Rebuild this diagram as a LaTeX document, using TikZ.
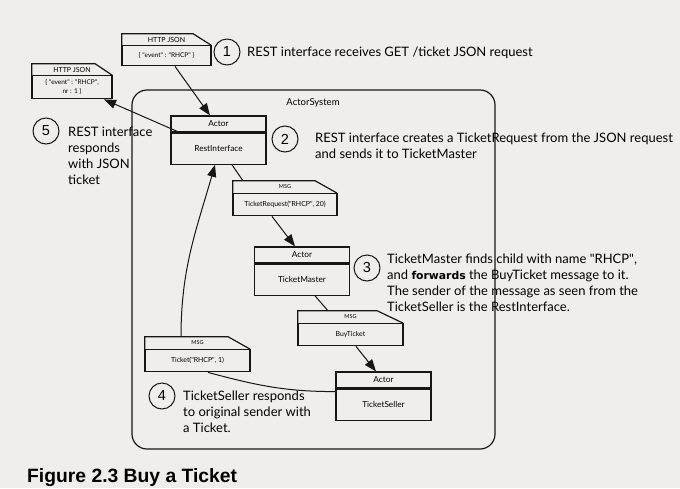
\documentclass[tikz,border=0pt]{standalone}
\usepackage{fontspec}
\setmainfont{Lato}
\newfontfamily\capfont{Liberation Sans}
\newfontfamily\heavyfont{DejaVu Sans}
\usepackage{tikz}
\usetikzlibrary{positioning,arrows.meta}
\definecolor{paper}{RGB}{239,238,236}
\definecolor{ink}{RGB}{22,22,22}
\newcommand{\dq}{\textquotedbl}

\begin{document}
\begin{tikzpicture}[x=1pt,y=1pt,
    boxline/.style={draw=ink,line width=1.2pt},
    wire/.style={draw=ink,line width=1pt},
    arr/.style={wire,-{Triangle[length=12pt,width=9pt]}},
    acthead/.style={boxline,minimum width=95,minimum height=16,inner sep=0,font=\fontsize{8.3}{9}\selectfont},
    actbody/.style={boxline,minimum width=95,minimum height=31,inner sep=0,font=\fontsize{8.3}{9}\selectfont},
    msghead/.style={minimum height=12,inner sep=0,font=\fontsize{5.5}{6}\selectfont},
    msgbody/.style={boxline,minimum height=22,inner sep=0,font=\fontsize{6.9}{8}\selectfont},
    jsonhead/.style={minimum height=11,inner sep=0,font=\fontsize{7}{8}\selectfont},
    jsonbody/.style={boxline,inner sep=0,align=center,font=\fontsize{6.5}{9}\selectfont},
    num/.style={circle,draw=ink,line width=1pt,minimum size=26,inner sep=0,font=\capfont\fontsize{14.5}{16}\selectfont},
    note/.style={anchor=base west,align=left,inner sep=0,font=\fontsize{13}{16}\selectfont}]
    \fill[paper] (0,0) rectangle (680,-488);
    \useasboundingbox (0,0) rectangle (680,-488);

    % the actor system frame
    \node[boxline,rounded corners=15pt,minimum width=363,minimum height=359,inner sep=0] (sys) at (313.5,-269.5) {};
    \node[font=\fontsize{9.5}{11}\selectfont] (sys-name) at (313,-103) {ActorSystem};

    % http messages
    \node[jsonhead,minimum width=89] (json-head) at (166.5,-39.5) {HTTP JSON};
    \node[jsonbody,minimum width=89,minimum height=20,below=0pt of json-head] (json) {\{ \dq event\dq\ : \dq RHCP\dq\ \}};
    \draw[boxline] (json-head.south west) |- ([xshift=-18pt]json-head.north east) -- (json-head.south east);
    \node[jsonhead,minimum width=80] (reply-head) at (72,-69.5) {HTTP JSON};
    \node[jsonbody,minimum width=80,minimum height=23,below=0pt of reply-head] (reply) {\{ \dq event\dq\ : \dq RHCP\dq,\\ nr : 1 \}};
    \draw[boxline] (reply-head.south west) |- ([xshift=-17pt]reply-head.north east) -- (reply-head.south east);

    % actors
    \node[acthead] (rest-head) at (218.5,-124) {Actor};
    \node[actbody,below=0pt of rest-head] (rest) {RestInterface};
    \node[acthead] (tm-head) at (302,-255) {Actor};
    \node[actbody,below=0pt of tm-head] (tm) {TicketMaster};
    \node[acthead] (ts-head) at (383.5,-380) {Actor};
    \node[actbody,below=0pt of ts-head] (ts) {TicketSeller};

    % messages
    \node[msghead,minimum width=104] (req-head) at (285,-187) {MSG};
    \node[msgbody,minimum width=104,below=0pt of req-head] (req) {TicketRequest(\dq RHCP\dq, 20)};
    \draw[boxline] (req-head.south west) |- ([xshift=-22pt]req-head.north east) -- (req-head.south east);
    \node[msghead,minimum width=105] (buy-head) at (350.5,-317) {MSG};
    \node[msgbody,minimum width=105,below=0pt of buy-head] (buy) {BuyTicket};
    \draw[boxline] (buy-head.south west) |- ([xshift=-26pt]buy-head.north east) -- (buy-head.south east);
    \node[msghead,minimum width=105] (tick-head) at (197.5,-343) {MSG};
    \node[msgbody,minimum width=105,below=0pt of tick-head] (tick) {Ticket(\dq RHCP\dq, 1)};
    \draw[boxline] (tick-head.south west) |- ([xshift=-22pt]tick-head.north east) -- (tick-head.south east);

    % steps (notes sit on the baseline of their last line)
    \node[num] (one) at (227,-52) {1};
    \node[num] (two) at (285,-139) {2};
    \node[num] (three) at (367,-268) {3};
    \node[num] (four) at (162,-396) {4};
    \node[num] (five) at (46,-131) {5};
    \node[note] (one-text) at (247,-56) {REST interface receives GET /ticket JSON request};
    \node[note] (two-text) at (315,-158) {REST interface creates a TicketRequest from the JSON request\\and sends it to TicketMaster};
    \node[note] (three-text) at (387,-311) {TicketMaster finds child with name \dq RHCP\dq,\\and {\heavyfont\bfseries\fontsize{10.8}{16}\selectfont forwards} the BuyTicket message to it.\\The sender of the message as seen from the\\TicketSeller is the RestInterface.};
    \node[note] (four-text) at (183,-432) {TicketSeller responds\\to original sender with\\a Ticket.};
    \node[note] (five-text) at (68,-184) {REST interface\\responds\\with JSON\\ticket};

    % message flow
    \draw[arr] ([xshift=8.5pt]json.south) -- ([xshift=-8.5pt]rest-head.north);
    \draw[arr] ([xshift=-38.5pt]rest.north) -- ([xshift=32pt]reply.south);
    \draw[wire] ([xshift=13.5pt]rest.south) -- ([xshift=-42pt]req-head.north);
    \draw[arr] ([xshift=-13pt]req.south) -- ([xshift=-7pt]tm-head.north);
    \draw[wire] ([xshift=13pt]tm.south) -- ([xshift=-22.5pt]buy-head.north);
    \draw[arr] ([xshift=5.5pt]buy.south) -- ([xshift=-7.5pt]ts-head.north);
    \draw[wire] ([yshift=-3pt]ts.north west) to[out=180,in=-15] ([xshift=10.5pt]tick.south);
    \draw[arr] ([xshift=-16.5pt]tick-head.north) to[out=90,in=-106] ([xshift=-3.5pt]rest.south);

    \node[anchor=base west,inner sep=0,font=\capfont\bfseries\fontsize{19.3}{22}\selectfont] (caption) at (27,-482) {Figure 2.3 Buy a Ticket};
\end{tikzpicture}
\end{document}
